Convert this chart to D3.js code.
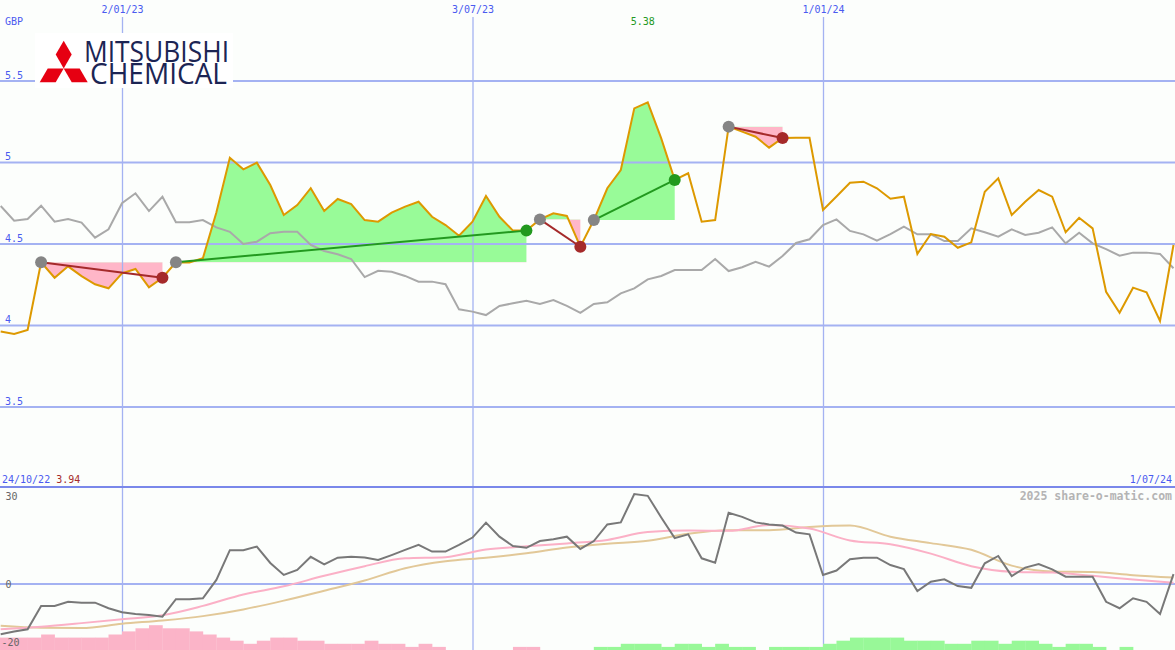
<!DOCTYPE html>
<html><head><meta charset="utf-8">
<script src="https://cdn.jsdelivr.net/npm/d3@7"></script>
<style>html,body{margin:0;padding:0;background:#fcfefc;overflow:hidden}</style>
</head><body><svg id="c" width="1175" height="650"></svg>
<script>
// ---------- data ----------
const firstWeek = "2022-10-31", lastWeek = "2024-07-01";
const priceVals = [
 3.96,3.945,3.97,4.385,4.29,4.36,4.30,4.25,4.225,4.317,
 4.344,4.231,4.29,4.385,4.383,4.41,4.69,5.026,4.955,4.996,
 4.859,4.675,4.736,4.839,4.699,4.773,4.742,4.644,4.634,4.689,
 4.726,4.756,4.664,4.613,4.548,4.634,4.791,4.664,4.579,4.579,
 4.648,4.685,4.669,4.48,4.644,4.839,4.951,5.329,5.366,5.145,
 4.89,4.931,4.634,4.644,5.217,5.186,5.155,5.088,5.147,5.149,
 5.149,4.706,4.788,4.873,4.879,4.839,4.775,4.787,4.436,4.558,
 4.542,4.474,4.507,4.818,4.9,4.675,4.756,4.828,4.787,4.569,
 4.658,4.593,4.204,4.075,4.229,4.201,4.025,4.491];
const indexVals = [
 4.730,4.640,4.650,4.732,4.634,4.650,4.628,4.536,4.587,4.747,
 4.808,4.699,4.787,4.630,4.630,4.644,4.599,4.572,4.497,4.511,
 4.563,4.572,4.572,4.491,4.454,4.434,4.405,4.294,4.333,4.327,
 4.301,4.266,4.266,4.250,4.096,4.082,4.061,4.117,4.133,4.149,
 4.129,4.153,4.117,4.075,4.129,4.139,4.194,4.225,4.280,4.301,
 4.337,4.337,4.337,4.405,4.331,4.354,4.388,4.358,4.423,4.503,
 4.526,4.613,4.648,4.577,4.556,4.517,4.558,4.603,4.556,4.556,
 4.515,4.515,4.593,4.569,4.542,4.587,4.552,4.566,4.599,4.501,
 4.566,4.501,4.466,4.425,4.444,4.444,4.436,4.348];
const oscVals = [
 -17.2,-16.3,-15.5,-7.5,-7.5,-6.1,-6.4,-6.4,-8.3,-9.7,
 -10.3,-10.6,-11.2,-5.2,-5.2,-4.9,1.4,11.6,11.6,12.8,
 7.2,3.1,4.8,9.3,6.7,9.0,9.3,9.1,8.2,9.9,
 11.7,13.4,11.1,11.1,13.4,15.9,21.0,16.2,13.0,12.4,
 14.7,15.3,16.2,12.0,14.7,20.4,21.1,30.8,30.2,22.8,
 15.7,17.0,8.8,7.3,24.4,23.0,21.1,20.4,20.0,17.6,
 17.0,3.1,4.6,8.5,9.0,9.0,6.5,5.1,-2.4,0.8,
 1.6,-0.7,-1.3,7.1,9.6,2.7,5.6,6.8,5.0,2.5,
 2.5,2.5,-6.1,-8.3,-4.9,-6.1,-10.3,3.4];
const barVals = [
 -4,-4,-4,-4,-5,-4,-4,-4,-4,-5,
 -6,-7,-8,-7,-7,-6,-5,-4,-3,-2,
 -3,-4,-4,-3,-3,-2,-2,-2,-3,-2,
 -2,-1,-2,-1,0,0,0,0,0,-1,
 -1,0,0,0,0,1,1,2,2,2,
 1,2,2,1,2,1,1,0,1,1,
 1,1,2,3,4,4,4,4,3,3,
 3,2,2,3,3,2,3,3,2,1,
 2,2,1,0,1,0,0,0];
const maIdx = [0,3,6,9,12,15,18,21,24,27,30,33,36,39,42,45,48,51,54,57,60,63,66,69,72,75,78,81,84,87];
const maFastVals = [-15.5,-14.6,-13.4,-12.1,-10.7,-7.5,-3.6,-0.8,2.8,6.1,8.8,9.2,11.8,12.9,13.9,15.1,17.8,18.3,18.2,20.2,19.0,14.9,13.6,10.4,6.1,4.2,3.9,2.8,1.5,0.4];
const maSlowVals = [-14.3,-15.0,-15.1,-13.6,-12.5,-11.0,-8.7,-5.7,-2.3,1.2,5.4,7.8,9.0,10.5,12.5,13.8,14.8,17.2,18.4,18.4,19.5,20.0,16.2,14.0,11.7,6.3,4.3,4.1,3.0,2.2];
const tradeEntry = [3,13,40,44,54];
const tradeExit  = [12,39,43,50,58];
const priceTicks = [3.5,4,4.5,5,5.5];
const priceTickLabels = ["3.5","4","4.5","5","5.5"];
const oscTicks = [-20,0,30];
const oscTickLabels = ["-20","0","30"];
const dateTicks = ["2023-01-02","2023-07-03","2024-01-01"];
const dateTickLabels = ["2/01/23","3/07/23","1/01/24"];
const currency = "GBP";
const maxLabel = "5.38", minLabel = "3.94";
const startLabel = "24/10/22", endLabel = "1/07/24";
const credit = "2025 share-o-matic.com";
const logoLines = ["MITSUBISHI", "CHEMICAL"];

// ---------- setup ----------
const W = 1175, H = 650;
const svg = d3.select("#c");
const weeks = d3.utcMonday.range(new Date(firstWeek), d3.utcDay.offset(new Date(lastWeek), 1));
const x = d3.scaleUtc().domain([new Date("2023-01-02"), new Date("2024-01-01")]).range([122, 823]);
const y = d3.scaleLinear().domain([3, 6]).range([488, -1]);
const yL = d3.scaleLinear().domain([0, 30]).range([584, 496.4]);
const yB = d3.scaleLinear().domain([0, 10]).range([650, 619]);
const xi = i => x(weeks[i]);
const weekW = x(weeks[1]) - x(weeks[0]);

const mono = "'DejaVu Sans Mono', 'Liberation Mono', monospace";
const gridC = "#a4b2f2", textBlue = "#4a5af0";

svg.append("rect").attr("width", W).attr("height", H).attr("fill", "#fcfefc");
const defs = svg.append("defs");
defs.append("clipPath").attr("id", "mainClip").append("rect").attr("x", 0).attr("y", 0).attr("width", W).attr("height", 486);
defs.append("clipPath").attr("id", "lowClip").append("rect").attr("x", 0).attr("y", 488).attr("width", W).attr("height", H - 488);

// ---------- trade fills ----------
const fills = svg.append("g").attr("clip-path", "url(#mainClip)");
tradeEntry.forEach((e, k) => {
  const ex = tradeExit[k];
  const ye = y(priceVals[e]);
  const seg = d3.range(e, ex + 1);
  const area = d3.area().x(i => xi(i)).y0(ye).y1(i => y(priceVals[i]));
  defs.append("clipPath").attr("id", "up" + k).append("rect").attr("x", 0).attr("y", 0).attr("width", W).attr("height", ye);
  defs.append("clipPath").attr("id", "dn" + k).append("rect").attr("x", 0).attr("y", ye).attr("width", W).attr("height", 488 - ye);
  fills.append("g").attr("clip-path", `url(#up${k})`).append("path").attr("d", area(seg)).attr("fill", "#98fb98");
  fills.append("g").attr("clip-path", `url(#dn${k})`).append("path").attr("d", area(seg)).attr("fill", "#ffb6c8");
});

// ---------- grid ----------
const gY = svg.append("g").call(d3.axisRight(y).tickValues(priceTicks).tickFormat((d, i) => priceTickLabels[i]).tickSize(W));
gY.select(".domain").remove();
gY.selectAll("line").attr("stroke", gridC).attr("stroke-width", 2);
gY.selectAll("text").attr("x", 5).attr("dy", -2.5).attr("fill", textBlue).attr("font-family", mono).attr("font-size", 10);

const gX = svg.append("g").attr("transform", `translate(0,${H})`)
  .call(d3.axisTop(x).tickValues(dateTicks.map(d => new Date(d))).tickFormat((d, i) => dateTickLabels[i]).tickSize(H - 17).tickPadding(4));
gX.select(".domain").remove();
gX.selectAll("line").attr("stroke", gridC).attr("stroke-width", 1.3);
gX.selectAll("text").attr("fill", textBlue).attr("font-family", mono).attr("font-size", 10);

svg.append("line").attr("x1", 0).attr("x2", W).attr("y1", yL(0)).attr("y2", yL(0)).attr("stroke", gridC).attr("stroke-width", 2);
svg.append("line").attr("x1", 0).attr("x2", W).attr("y1", 487).attr("y2", 487).attr("stroke", "#7a88ea").attr("stroke-width", 2);

// ---------- logo ----------
const logo = svg.append("g");
logo.append("rect").attr("x", 35).attr("y", 33).attr("width", 198).attr("height", 55).attr("fill", "#ffffff");
(function(){
  const s = 16, cx = 63.7, cy = 68.4, h = s * Math.sqrt(3);
  const top = [[0,0],[s/2,-h/2],[0,-h],[-s/2,-h/2]];
  [0, 120, -120].forEach(a => {
    const r = a * Math.PI / 180;
    const pts = top.map(([px, py]) => [cx + px*Math.cos(r) - py*Math.sin(r), cy + px*Math.sin(r) + py*Math.cos(r)]);
    logo.append("path").attr("d", "M" + pts.map(p => p.join(",")).join("L") + "Z").attr("fill", "#e60012");
  });
})();
const lt = logo.append("text").attr("font-family", "'Open Sans', 'Liberation Sans', sans-serif")
  .attr("font-size", 29).attr("fill", "#1c2554");
lt.append("tspan").attr("x", 84).attr("y", 62).text(logoLines[0]).attr("textLength", 145).attr("lengthAdjust", "spacingAndGlyphs");
lt.append("tspan").attr("x", 90).attr("y", 83.5).text(logoLines[1]).attr("textLength", 137).attr("lengthAdjust", "spacingAndGlyphs");

// ---------- main lines ----------
const main = svg.append("g").attr("clip-path", "url(#mainClip)");
const idx = d3.range(weeks.length);
main.append("path").attr("d", d3.line().x(i => xi(i)).y(i => y(indexVals[i]))(idx))
  .attr("fill", "none").attr("stroke", "#a9a9a9").attr("stroke-width", 2);
main.append("path").attr("d", d3.line().x(i => xi(i)).y(i => y(priceVals[i]))(idx))
  .attr("fill", "none").attr("stroke", "#dd9900").attr("stroke-width", 2);
tradeEntry.forEach((e, k) => {
  const ex = tradeExit[k];
  const win = priceVals[ex] > priceVals[e];
  const col = win ? "#22991f" : "#a52a2a";
  main.append("line").attr("x1", xi(e)).attr("y1", y(priceVals[e])).attr("x2", xi(ex)).attr("y2", y(priceVals[ex]))
    .attr("stroke", col).attr("stroke-width", 2);
  main.append("circle").attr("cx", xi(e)).attr("cy", y(priceVals[e])).attr("r", 6).attr("fill", "#858585");
  main.append("circle").attr("cx", xi(ex)).attr("cy", y(priceVals[ex])).attr("r", 6).attr("fill", col);
});

// ---------- lower panel ----------
const low = svg.append("g").attr("clip-path", "url(#lowClip)");
low.selectAll("rect.bar").data(idx.filter(i => barVals[i] !== 0)).join("rect")
  .attr("x", i => xi(i) - weekW).attr("width", weekW + 0.3)
  .attr("y", i => yB(Math.abs(barVals[i]))).attr("height", i => yB(0) - yB(Math.abs(barVals[i])))
  .attr("fill", i => barVals[i] < 0 ? "#fbb4c8" : "#98f898");
low.append("path").attr("d", d3.line().curve(d3.curveMonotoneX).x((i, k) => xi(i)).y((i, k) => yL(maSlowVals[k]))(maIdx))
  .attr("fill", "none").attr("stroke", "#e2c898").attr("stroke-width", 2);
low.append("path").attr("d", d3.line().curve(d3.curveMonotoneX).x((i, k) => xi(i)).y((i, k) => yL(maFastVals[k]))(maIdx))
  .attr("fill", "none").attr("stroke", "#fbb0c6").attr("stroke-width", 2);
low.append("path").attr("d", d3.line().x(i => xi(i)).y(i => yL(oscVals[i]))(idx))
  .attr("fill", "none").attr("stroke", "#787878").attr("stroke-width", 2);

const gL = svg.append("g").call(d3.axisRight(yL).tickValues(oscTicks).tickFormat((d, i) => oscTickLabels[i]).tickSize(0));
gL.select(".domain").remove();
gL.selectAll("text").attr("x", (d) => d < 0 ? 1.5 : 5.5).attr("dy", "0.35em").attr("fill", "#666").attr("font-family", mono).attr("font-size", 10);
gL.selectAll("line").remove();

// ---------- texts ----------
svg.append("text").attr("x", 5).attr("y", 25).text(currency).attr("fill", textBlue).attr("font-family", mono).attr("font-size", 10);
const iMax = d3.maxIndex(priceVals);
svg.append("text").attr("x", xi(iMax) - 5).attr("y", 25).attr("text-anchor", "middle").text(maxLabel)
  .attr("fill", "#229922").attr("font-family", mono).attr("font-size", 10);
const st = svg.append("text").attr("x", 2).attr("y", 483).attr("font-family", mono).attr("font-size", 10);
st.append("tspan").text(startLabel + " ").attr("fill", textBlue);
st.append("tspan").text(minLabel).attr("fill", "#a52a2a");
svg.append("text").attr("x", 1172).attr("y", 483).attr("text-anchor", "end").text(endLabel)
  .attr("fill", textBlue).attr("font-family", mono).attr("font-size", 10);
svg.append("text").attr("x", 1172).attr("y", 500).attr("text-anchor", "end").text(credit)
  .attr("fill", "#b4b4b4").attr("font-family", mono).attr("font-size", 11.5).attr("font-weight", "bold");
</script></body></html>
